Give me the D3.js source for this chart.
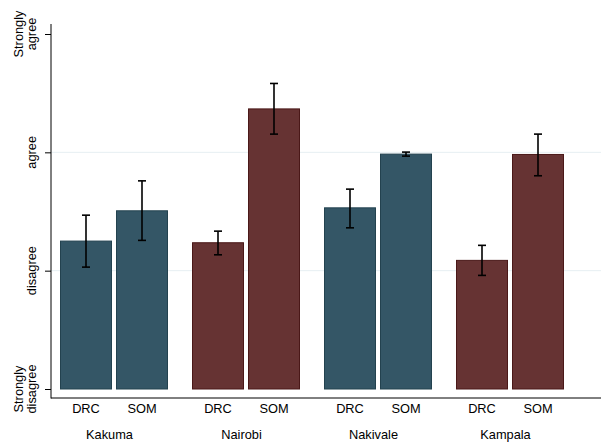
<!DOCTYPE html>
<html>
<head>
<meta charset="utf-8">
<script src="https://cdn.jsdelivr.net/npm/d3@7"></script>
<style>
  html, body { margin: 0; padding: 0; background: #fff; }
  text { font-family: "Liberation Sans", Arial, Helvetica, sans-serif; fill: #000; }
</style>
</head>
<body>
<svg id="chart" width="605" height="445"></svg>
<script>
// ---- data ----
const groups = ["Kakuma", "Nairobi", "Nakivale", "Kampala"];
const subgroups = ["DRC", "SOM"];
const drcValues = [2.25, 2.236, 2.531, 2.087];
const somValues = [2.506, 3.367, 2.985, 2.982];
const drcLow  = [2.030, 2.134, 2.362, 1.960];
const drcHigh = [2.469, 2.334, 2.689, 2.214];
const somLow  = [2.256, 3.154, 2.968, 2.802];
const somHigh = [2.759, 3.582, 3.002, 3.154];
const groupType = ["camp", "city", "camp", "city"];
const yTickValues = [1, 2, 3, 4];
const yTickLabels = [["Strongly", "disagree"], ["disagree"], ["agree"], ["Strongly", "agree"]];

const rows = [];
groups.forEach((g, i) => {
  rows.push({ group: g, sub: "DRC", value: drcValues[i], lo: drcLow[i], hi: drcHigh[i], type: groupType[i] });
  rows.push({ group: g, sub: "SOM", value: somValues[i], lo: somLow[i], hi: somHigh[i], type: groupType[i] });
});

const fillColor = { camp: "#345666", city: "#663333" };
const strokeColor = { camp: "#23424f", city: "#4a1818" };

const svg = d3.select("#chart");

const y = d3.scaleLinear().domain([1, 4]).range([389, 34]);
const x0 = d3.scaleBand().domain(groups).range([60, 564]).paddingInner(24 / 132).paddingOuter(0);
const x1 = d3.scaleBand().domain(subgroups).range([0, x0.bandwidth()]).paddingInner(4 / 56).paddingOuter(0);

// gridlines
svg.append("g").selectAll("line").data([2, 3]).join("line")
  .attr("x1", 51).attr("x2", 601)
  .attr("y1", d => y(d)).attr("y2", d => y(d))
  .attr("stroke", "#e6eff2").attr("stroke-width", 1);

// bars
svg.append("g").selectAll("rect").data(rows).join("rect")
  .attr("x", d => x0(d.group) + x1(d.sub) + 0.5)
  .attr("y", d => y(d.value))
  .attr("width", x1.bandwidth() - 1)
  .attr("height", d => y(1) - y(d.value))
  .attr("fill", d => fillColor[d.type])
  .attr("stroke", d => strokeColor[d.type])
  .attr("stroke-width", 1);

// error bars
const eb = svg.append("g").attr("stroke", "#000").attr("stroke-width", 1.6);
rows.forEach(d => {
  const cx = x0(d.group) + x1(d.sub) + x1.bandwidth() / 2;
  eb.append("line").attr("x1", cx).attr("x2", cx).attr("y1", y(d.hi)).attr("y2", y(d.lo));
  eb.append("line").attr("x1", cx - 4).attr("x2", cx + 4).attr("y1", y(d.hi)).attr("y2", y(d.hi));
  eb.append("line").attr("x1", cx - 4).attr("x2", cx + 4).attr("y1", y(d.lo)).attr("y2", y(d.lo));
});

// y axis
const yAxis = d3.axisLeft(y).tickValues(yTickValues).tickSize(6).tickFormat("");
const yg = svg.append("g").attr("transform", "translate(51,0)").call(yAxis);
yg.select(".domain").remove();
yg.selectAll(".tick line").attr("stroke", "#000");
svg.append("line").attr("x1", 51).attr("x2", 51).attr("y1", 24).attr("y2", 398.5)
  .attr("stroke", "#000").attr("stroke-width", 1);

// y tick labels (rotated)
yTickValues.forEach((v, i) => {
  const lines = yTickLabels[i];
  const t = svg.append("text")
    .attr("transform", `translate(${lines.length === 2 ? 23 : 36},${y(v)}) rotate(-90)`)
    .attr("text-anchor", "middle")
    .style("font-size", "12.8px");
  lines.forEach((l, j) => {
    t.append("tspan").attr("x", 0).attr("dy", j === 0 ? 0 : 13).text(l);
  });
});

// x axis line
svg.append("line").attr("x1", 51).attr("x2", 601).attr("y1", 398).attr("y2", 398)
  .attr("stroke", "#000").attr("stroke-width", 1);

// subgroup labels
svg.append("g").selectAll("text").data(rows).join("text")
  .attr("x", d => x0(d.group) + x1(d.sub) + x1.bandwidth() / 2)
  .attr("y", 412.5)
  .attr("text-anchor", "middle")
  .style("font-size", "12.8px")
  .text(d => d.sub);

// group labels
svg.append("g").selectAll("text").data(groups).join("text")
  .attr("x", d => x0(d) + x0.bandwidth() / 2 - 4.5)
  .attr("y", 439)
  .attr("text-anchor", "middle")
  .style("font-size", "12.8px")
  .text(d => d);
</script>
</body>
</html>
